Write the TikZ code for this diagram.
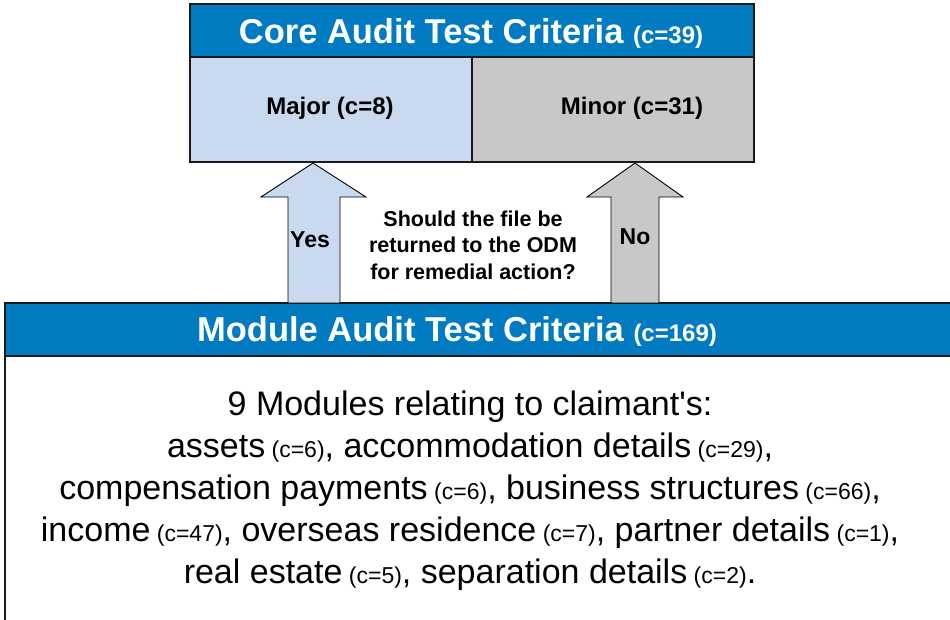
\documentclass[tikz,border=0pt]{standalone}
\usepackage{fontspec}
\setmainfont{Liberation Sans}
\usetikzlibrary{positioning}

\definecolor{headBlue}{HTML}{007BC1}
\definecolor{majorBlue}{HTML}{C9DAF0}
\definecolor{minorGrey}{HTML}{C8C8C8}
\definecolor{lineDark}{HTML}{1A1A1A}

\newcommand{\smallcount}[1]{{\fontsize{24}{28}\selectfont #1}}
\newcommand{\tinycount}[1]{{\fontsize{23}{26}\selectfont\ #1}}

\begin{document}
\begin{tikzpicture}[x=1pt, y=-1pt,
    box/.style={draw=lineDark, line width=1.5pt, inner sep=0pt, outer sep=0pt, anchor=north west},
    headbox/.style={box, fill=headBlue, minimum height=53pt},
    cellbox/.style={box, minimum width=282pt, minimum height=105pt},
    headtext/.style={text=white, font=\bfseries\fontsize{34.5}{40}\selectfont},
    celltext/.style={font=\bfseries\fontsize{24}{28}\selectfont},
    arrowtext/.style={font=\bfseries\fontsize{23}{26}\selectfont},
    blockarrow/.style={draw=black, line width=0.9pt, line join=miter}]

    \useasboundingbox (0,0) rectangle (950,619);

    % Core audit box
    \node[headbox, minimum width=564pt] (coreHead) at (190,4) {};
    \node[headtext] (coreTitle) at (471,33) {Core Audit Test Criteria \smallcount{(c=39)}};
    \node[cellbox, fill=majorBlue] (majorCell) at (190,57) {};
    \node[cellbox, fill=minorGrey] (minorCell) at (472,57) {};
    \node[celltext] (majorLabel) at (330,108) {Major (c=8)};
    \node[celltext] (minorLabel) at (632,108) {Minor (c=31)};

    % Module audit box
    \draw[box, fill=white] (5,356) rectangle (960,630);
    \node[headbox, minimum width=955pt] (moduleHead) at (5,303) {};
    \node[headtext] (moduleTitle) at (457,331) {Module Audit Test Criteria \smallcount{(c=169)}};

    % Block arrows
    \filldraw[blockarrow, fill=majorBlue]
        (288,303) -- (288,197) -- (261,197) -- (313,163) -- (366,197) -- (340,197) -- (340,303) -- cycle;
    \filldraw[blockarrow, fill=minorGrey]
        (611,303) -- (611,197) -- (587,197) -- (635,163) -- (683,197) -- (659,197) -- (659,303) -- cycle;
    \node[arrowtext] (yesLabel) at (310,240) {Yes};
    \node[arrowtext] (noLabel) at (635,237) {No};

    % Question
    \node[font=\bfseries\fontsize{21.5}{26.5}\selectfont, align=center] (question) at (473,245)
        {Should the file be\\returned to the ODM\\for remedial action?};

    % Module list
    \node[font=\fontsize{34}{42}\selectfont, align=center] (moduleList) at (470,491)
        {9 Modules relating to claimant\textquotesingle s:\\
         assets\tinycount{(c=6)}, accommodation details\tinycount{(c=29)},\\
         compensation payments\tinycount{(c=6)}, business structures\tinycount{(c=66)},\\
         income\tinycount{(c=47)}, overseas residence\tinycount{(c=7)}, partner details\tinycount{(c=1)},\\
         real estate\tinycount{(c=5)}, separation details\tinycount{(c=2)}.};

\end{tikzpicture}
\end{document}
